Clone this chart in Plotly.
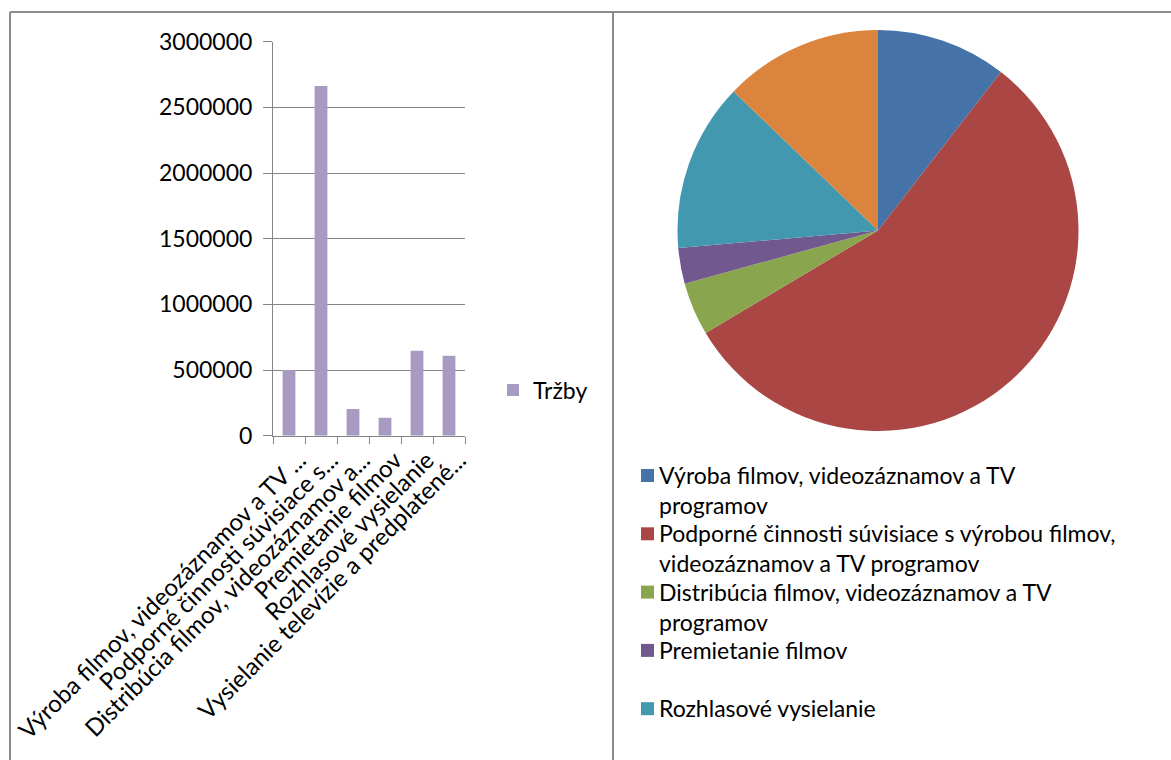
import plotly.graph_objects as go

# Tržby podľa odvetvia (EUR)
categories = [
    "Výroba filmov, videozáznamov a TV programov",
    "Podporné činnosti súvisiace s výrobou filmov, videozáznamov a TV programov",
    "Distribúcia filmov, videozáznamov a TV programov",
    "Premietanie filmov",
    "Rozhlasové vysielanie",
    "Vysielanie televízie a predplatené programy",
]
tick_labels = [
    "Výroba filmov, videozáznamov a TV ...",
    "Podporné činnosti súvisiace s...",
    "Distribúcia filmov, videozáznamov a...",
    "Premietanie filmov",
    "Rozhlasové vysielanie",
    "Vysielanie televízie a predplatené...",
]
legend_labels = [
    "Výroba filmov, videozáznamov a TV<br>programov",
    "Podporné činnosti súvisiace s výrobou filmov,<br>videozáznamov a TV programov",
    "Distribúcia filmov, videozáznamov a TV<br>programov",
    "Premietanie filmov",
    "Rozhlasové vysielanie",
    "Vysielanie televízie a predplatené<br>programy",
]
trzby = [500000, 2663000, 203000, 137000, 647000, 609000]
series_name = "Tržby"

pie_colors = ["#4572A7", "#AA4643", "#89A54E", "#71588F", "#4198AF", "#DB843D"]
bar_color = "#A89BC2"
W, H = 1171, 760
FONT = "Lato"
FS = 23


def px(x):
    return x / W


def py(y):
    return 1 - y / H


fig = go.Figure()

fig.add_trace(go.Bar(
    x=categories, y=trzby, name=series_name,
    marker=dict(color=bar_color, line=dict(width=0)),
    width=0.4, xaxis="x", yaxis="y", showlegend=True,
))

fig.add_trace(go.Pie(
    labels=categories, values=trzby, sort=False, direction="clockwise",
    rotation=0, marker=dict(colors=pie_colors, line=dict(width=0)),
    textinfo="none", hoverinfo="label+value+percent", showlegend=False,
    domain=dict(x=[px(677), px(1079)], y=[py(431), py(30)]),
))

grid = "#868686"
fig.update_layout(
    width=W, height=H, autosize=False,
    margin=dict(l=0, r=0, t=0, b=0, autoexpand=False),
    paper_bgcolor="white", plot_bgcolor="white",
    font=dict(family=FONT, size=FS, color="#000000"),
    xaxis=dict(
        domain=[px(273), px(465)], automargin=False,
        tickmode="array", tickvals=categories, ticktext=tick_labels,
        tickangle=-45, tickson="boundaries", ticks="outside", ticklen=7,
        tickcolor=grid, showline=True, linecolor=grid, linewidth=1,
        showgrid=False, tickfont=dict(family=FONT, size=24),
        ticklabelshift=10,
        fixedrange=True,
    ),
    yaxis=dict(
        domain=[py(435.7), py(41.7)], automargin=False,
        range=[0, 3000000], dtick=500000, tickformat="d",
        ticks="outside", ticklen=9, tickcolor=grid,
        showline=True, linecolor=grid, linewidth=1,
        showgrid=True, gridcolor=grid, gridwidth=1, zeroline=False,
        tickfont=dict(family=FONT, size=FS), ticklabelstandoff=6,
        fixedrange=True,
    ),
    legend=dict(
        x=px(493), y=py(390), xanchor="left", yanchor="middle",
        font=dict(family=FONT, size=FS), bgcolor="rgba(0,0,0,0)",
    ),
)

# Panel frames
frame = dict(color="#8C8C8C", width=2)
fig.add_shape(type="line", xref="paper", yref="paper",
              x0=px(10), x1=px(W), y0=py(12), y1=py(12), line=frame)
fig.add_shape(type="line", xref="paper", yref="paper",
              x0=px(10), x1=px(10), y0=py(12), y1=py(H), line=frame)
fig.add_shape(type="line", xref="paper", yref="paper",
              x0=px(613), x1=px(613), y0=py(12), y1=py(H), line=frame)

# Pie legend, stacked under the pie; entries that do not fit in the panel are dropped
entry_top = 475.5
entry_step = 58.3
for i, (lab, col) in enumerate(zip(legend_labels, pie_colors)):
    yc = entry_top + i * entry_step
    if yc + 30 > H:
        break
    fig.add_shape(type="rect", xref="paper", yref="paper",
                  x0=px(641), x1=px(654), y0=py(yc - 6.5), y1=py(yc + 6.5),
                  fillcolor=col, line=dict(width=0))
    fig.add_annotation(xref="paper", yref="paper", x=px(657), y=py(yc - 16.5),
                       xanchor="left", yanchor="top", align="left",
                       text=lab, showarrow=False,
                       font=dict(family=FONT, size=FS, color="#000000"))

fig.write_html("out.html")
